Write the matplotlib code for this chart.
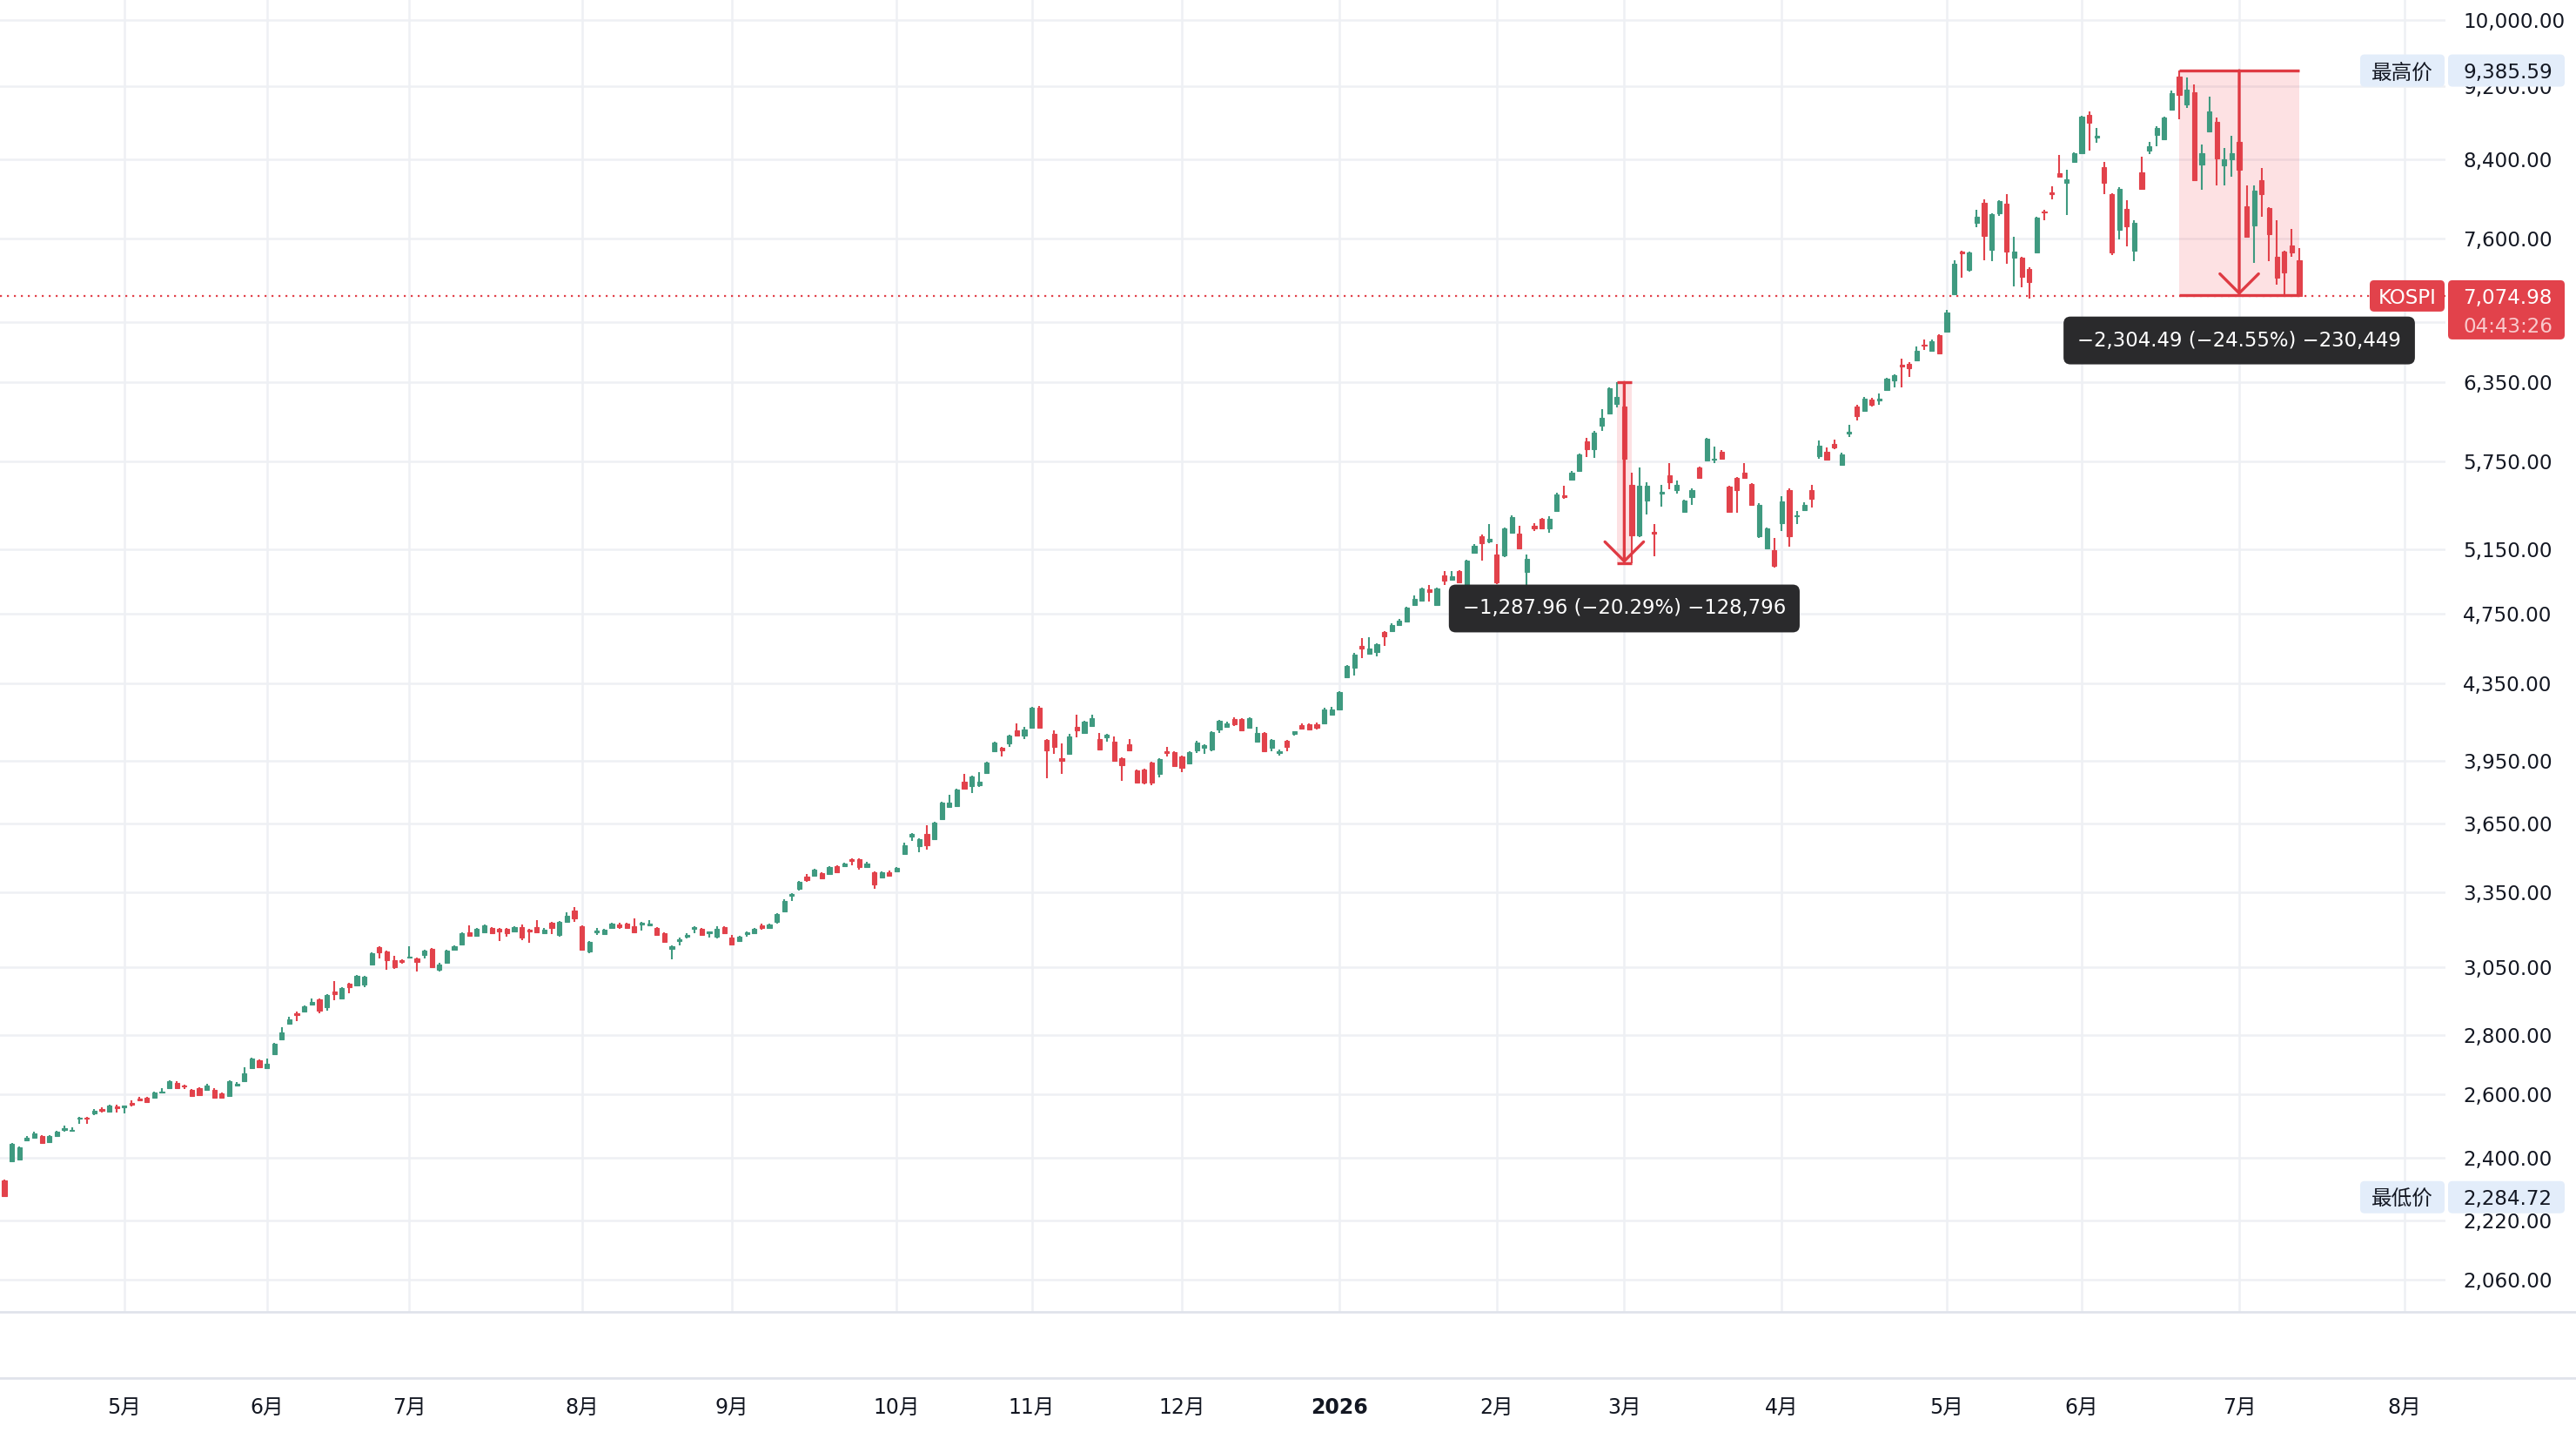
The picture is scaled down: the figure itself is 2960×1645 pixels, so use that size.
import matplotlib.pyplot as plt
import numpy as np
from matplotlib.patches import FancyBboxPatch, FancyArrowPatch
from matplotlib.lines import Line2D
from matplotlib.transforms import IdentityTransform, blended_transform_factory

plt.rcParams['font.family'] = ['DejaVu Sans', 'Noto Sans CJK SC']

# KOSPI 日线 OHLC
opens = [2332, 2391, 2396, 2453, 2461, 2467, 2449, 2467, 2486, 2483,
         2521, 2525, 2538, 2552, 2544, 2560, 2558, 2572, 2586, 2589,
         2589, 2606, 2620, 2637, 2629, 2614, 2620, 2614, 2614, 2603,
         2594, 2629, 2643, 2686, 2712, 2686, 2733, 2786, 2840, 2877,
         2884, 2909, 2928, 2899, 2957, 2931, 2985, 2979, 2982, 3058,
         3126, 3109, 3075, 3075, 3085, 3081, 3095, 3119, 3038, 3065,
         3116, 3136, 3185, 3171, 3185, 3202, 3199, 3199, 3188, 3206,
         3195, 3206, 3181, 3224, 3174, 3227, 3273, 3209, 3109, 3185,
         3178, 3202, 3216, 3220, 3209, 3216, 3213, 3202, 3181, 3119,
         3150, 3167, 3199, 3199, 3181, 3167, 3206, 3164, 3150, 3178,
         3181, 3213, 3202, 3227, 3269, 3334, 3363, 3415, 3418, 3429,
         3426, 3459, 3459, 3490, 3490, 3455, 3433, 3411, 3433, 3437,
         3513, 3591, 3548, 3603, 3579, 3670, 3726, 3730, 3849, 3825,
         3829, 3888, 3996, 4013, 4035, 4102, 4075, 4115, 4219, 4053,
         4084, 3961, 3983, 4120, 4089, 4124, 4057, 4066, 4044, 3961,
         4030, 3904, 3908, 3939, 3883, 3996, 3991, 3970, 3935, 4000,
         4013, 4004, 4106, 4120, 4160, 4160, 4115, 4044, 4089, 4013,
         3987, 4049, 4084, 4129, 4133, 4133, 4138, 4183, 4214, 4384,
         4437, 4560, 4519, 4524, 4640, 4649, 4681, 4705, 4803, 4829,
         4894, 4803, 4981, 4958, 5008, 4889, 5129, 5236, 5197, 5118,
         5107, 5254, 5249, 5002, 5300, 5347, 5283, 5405, 5512, 5621,
         5683, 5898, 5840, 6009, 6107, 6181, 6160, 5585, 5242, 5476,
         5262, 5524, 5652, 5548, 5399, 5500, 5708, 5758, 5760, 5821,
         5572, 5633, 5671, 5591, 5231, 5157, 5141, 5318, 5548, 5365,
         5411, 5548, 5789, 5821, 5878, 5727, 5955, 6161, 6127, 6215,
         6208, 6290, 6366, 6492, 6499, 6528, 6655, 6606, 6737, 6766,
         7088, 7481, 7313, 7754, 7947, 7497, 7850, 7938, 7421, 7421,
         7320, 7473, 7867, 8055, 8252, 8155, 8370, 8463, 8878, 8630,
         8316, 8040, 7686, 7892, 7489, 8262, 8490, 8660, 8610, 8936,
         9312, 8998, 9138, 8344, 8697, 8803, 8335, 8398, 8583, 7920,
         7730, 8180, 7903, 7433, 7481, 7539, 7400]
highs = [2337, 2446, 2436, 2466, 2480, 2470, 2470, 2484, 2500, 2494,
         2527, 2527, 2552, 2556, 2567, 2566, 2564, 2580, 2590, 2592,
         2609, 2620, 2646, 2643, 2631, 2617, 2623, 2635, 2620, 2606,
         2646, 2640, 2689, 2721, 2716, 2718, 2772, 2827, 2865, 2884,
         2907, 2931, 2932, 2948, 2995, 2974, 2988, 3018, 3015, 3105,
         3130, 3112, 3091, 3080, 3129, 3085, 3116, 3122, 3065, 3116,
         3133, 3185, 3213, 3202, 3217, 3206, 3202, 3202, 3209, 3216,
         3199, 3234, 3202, 3227, 3231, 3266, 3287, 3213, 3150, 3202,
         3199, 3225, 3225, 3224, 3241, 3226, 3234, 3206, 3184, 3132,
         3164, 3181, 3209, 3202, 3190, 3209, 3210, 3174, 3171, 3188,
         3203, 3220, 3220, 3262, 3318, 3345, 3397, 3425, 3450, 3433,
         3460, 3463, 3475, 3494, 3494, 3478, 3437, 3437, 3440, 3456,
         3564, 3607, 3583, 3642, 3658, 3750, 3786, 3812, 3886, 3878,
         3894, 3944, 4044, 4017, 4080, 4138, 4120, 4225, 4230, 4060,
         4102, 4035, 4084, 4183, 4152, 4183, 4089, 4084, 4071, 3965,
         4057, 3908, 3912, 3944, 3961, 4017, 3996, 3974, 3996, 4049,
         4030, 4097, 4156, 4150, 4169, 4165, 4169, 4120, 4093, 4057,
         4004, 4053, 4100, 4140, 4138, 4145, 4219, 4224, 4310, 4451,
         4520, 4608, 4613, 4575, 4649, 4690, 4720, 4793, 4860, 4905,
         4926, 4905, 5008, 5008, 5015, 5080, 5185, 5245, 5317, 5185,
         5290, 5370, 5300, 5118, 5320, 5355, 5367, 5525, 5578, 5680,
         5808, 5924, 5970, 6141, 6310, 6347.70, 6220, 5666, 5708, 5602,
         5317, 5585, 5734, 5615, 5482, 5555, 5714, 5924, 5859, 5830,
         5578, 5640, 5734, 5597, 5458, 5294, 5225, 5506, 5560, 5405,
         5460, 5585, 5904, 5853, 5911, 5810, 6022, 6174, 6230, 6225,
         6262, 6386, 6415, 6543, 6510, 6640, 6700, 6695, 6745, 6950,
         7400, 7490, 7481, 7886, 7982, 7850, 7975, 8040, 7620, 7430,
         7330, 7815, 7880, 8118, 8443, 8290, 8472, 8870, 8920, 8735,
         8370, 8050, 8109, 7973, 7781, 8425, 8583, 8754, 8860, 9156,
         9385.59, 9303, 9224, 8555, 9088, 8850, 8517, 8650, 8600, 8127,
         8127, 8305, 7910, 7782, 7490, 7698, 7514]
lows = [2284.72, 2388, 2393, 2450, 2458, 2443, 2446, 2464, 2480, 2482,
        2505, 2505, 2532, 2541, 2540, 2540, 2538, 2560, 2577, 2572,
        2586, 2604, 2617, 2617, 2617, 2591, 2594, 2611, 2586, 2586,
        2591, 2625, 2640, 2683, 2686, 2683, 2730, 2783, 2837, 2849,
        2880, 2906, 2877, 2887, 2925, 2928, 2950, 2976, 2973, 3055,
        3081, 3038, 3041, 3063, 3083, 3031, 3081, 3045, 3031, 3061,
        3112, 3132, 3168, 3167, 3181, 3178, 3150, 3167, 3185, 3153,
        3143, 3181, 3178, 3178, 3167, 3224, 3227, 3112, 3102, 3174,
        3174, 3198, 3198, 3199, 3182, 3192, 3209, 3171, 3143, 3078,
        3133, 3160, 3181, 3171, 3164, 3160, 3178, 3133, 3146, 3167,
        3178, 3197, 3199, 3220, 3265, 3312, 3358, 3392, 3415, 3404,
        3422, 3429, 3455, 3463, 3444, 3452, 3363, 3407, 3415, 3433,
        3509, 3572, 3521, 3532, 3575, 3666, 3722, 3726, 3808, 3792,
        3821, 3884, 3991, 3970, 4017, 4071, 4057, 4110, 4110, 3862,
        3983, 3883, 3978, 4066, 4084, 4120, 4000, 4044, 3944, 3852,
        3996, 3837, 3833, 3829, 3866, 3970, 3918, 3892, 3930, 3987,
        3983, 3996, 4089, 4115, 4124, 4097, 4110, 4040, 3991, 3996,
        3974, 3996, 4075, 4106, 4102, 4106, 4133, 4178, 4210, 4380,
        4394, 4490, 4514, 4500, 4560, 4645, 4676, 4700, 4798, 4825,
        4824, 4798, 4926, 4950, 4932, 4885, 5120, 5074, 5190, 4931,
        5100, 5250, 5150, 4900, 5270, 5280, 5254, 5398, 5488, 5615,
        5675, 5783, 5777, 5976, 6100, 6154, 5750, 5059.74, 5230, 5376,
        5102, 5429, 5554, 5524, 5393, 5446, 5627, 5752, 5734, 5765,
        5393, 5393, 5627, 5440, 5220, 5151, 5030, 5271, 5168, 5317,
        5405, 5423, 5770, 5758, 5840, 5720, 5930, 6055, 6120, 6161,
        6174, 6284, 6311, 6311, 6394, 6520, 6614, 6600, 6580, 6760,
        7080, 7236, 7290, 7708, 7400, 7392, 7824, 7368, 7158, 7150,
        7050, 7465, 7782, 7990, 8210, 7830, 8360, 8455, 8490, 8575,
        8040, 7449, 7596, 7530, 7392, 8085, 8455, 8537, 8600, 8930,
        8830, 8958, 8170, 8082, 8690, 8127, 8127, 8218, 8270, 7612,
        7375, 7815, 7392, 7177, 7078, 7433, 7074.98]
closes = [2288, 2443, 2433, 2461, 2475, 2446, 2467, 2480, 2492, 2487,
          2525, 2521, 2546, 2546, 2563, 2555, 2563, 2566, 2581, 2575,
          2606, 2609, 2643, 2620, 2626, 2594, 2597, 2629, 2589, 2589,
          2643, 2634, 2669, 2718, 2689, 2701, 2769, 2808, 2855, 2871,
          2903, 2919, 2887, 2944, 2947, 2970, 2973, 3015, 3012, 3102,
          3105, 3075, 3048, 3068, 3088, 3068, 3112, 3048, 3058, 3112,
          3129, 3181, 3171, 3199, 3213, 3181, 3188, 3181, 3206, 3164,
          3188, 3185, 3195, 3202, 3227, 3252, 3241, 3116, 3146, 3192,
          3195, 3220, 3206, 3202, 3185, 3223, 3220, 3174, 3146, 3129,
          3157, 3174, 3206, 3174, 3188, 3199, 3181, 3136, 3167, 3185,
          3199, 3202, 3216, 3259, 3312, 3341, 3392, 3400, 3444, 3407,
          3455, 3433, 3471, 3482, 3455, 3471, 3381, 3433, 3418, 3452,
          3552, 3603, 3579, 3552, 3654, 3746, 3746, 3808, 3812, 3874,
          3845, 3939, 4040, 4000, 4075, 4075, 4106, 4219, 4115, 4000,
          4017, 3948, 4071, 4102, 4147, 4165, 4004, 4080, 3948, 3926,
          4000, 3841, 3841, 3841, 3957, 3987, 3922, 3913, 3991, 4040,
          4026, 4093, 4151, 4138, 4133, 4102, 4165, 4089, 3996, 4053,
          3996, 4017, 4097, 4111, 4106, 4118, 4214, 4210, 4303, 4446,
          4514, 4546, 4546, 4570, 4616, 4681, 4710, 4788, 4839, 4900,
          4878, 4900, 4948, 4975, 4937, 5074, 5174, 5191, 5214, 4942,
          5283, 5361, 5157, 5085, 5285, 5288, 5347, 5518, 5500, 5670,
          5802, 5840, 5963, 6074, 6304, 6235, 5770, 5242, 5579, 5579,
          5250, 5535, 5602, 5585, 5476, 5548, 5633, 5917, 5770, 5770,
          5399, 5548, 5633, 5446, 5446, 5288, 5041, 5465, 5231, 5371,
          5446, 5488, 5865, 5764, 5852, 5802, 5965, 6088, 6222, 6174,
          6222, 6380, 6408, 6478, 6464, 6606, 6645, 6686, 6585, 6929,
          7362, 7465, 7473, 7815, 7629, 7841, 7964, 7481, 7481, 7250,
          7200, 7806, 7855, 8040, 8220, 8187, 8463, 8860, 8790, 8645,
          8154, 7473, 8091, 7723, 7756, 8091, 8537, 8735, 8850, 9128,
          9108, 9168, 8178, 8463, 8918, 8406, 8398, 8463, 8290, 7621,
          8073, 8040, 7645, 7240, 7288, 7473, 7074.98]

# 每月第一根K线的序号 与 时间轴标签
month_idx = [16, 35, 54, 77, 97, 119, 137, 157, 178, 199, 216, 237, 259, 277, 298, 320]
month_lbl = ['5月', '6月', '7月', '8月', '9月', '10月', '11月', '12月', '2026',
             '2月', '3月', '4月', '5月', '6月', '7月', '8月']

price_ticks = [10000, 9200, 8400, 7600, 6850, 6350, 5750, 5150, 4750, 4350,
               3950, 3650, 3350, 3050, 2800, 2600, 2400, 2220, 2060]

# 价格区间测量 (起点K线, 终点K线, 高, 低, 标签)
meas_start = [215, 290]
meas_end = [217, 306]
meas_top = [6347.70, 9385.59]
meas_bot = [5059.74, 7081.10]
meas_txt = ['\u22121,287.96 (\u221220.29%) \u2212128,796',
            '\u22122,304.49 (\u221224.55%) \u2212230,449']

symbol = 'KOSPI'
countdown = '04:43:26'

green = '#3f9a80'
red = '#e2424b'
mred = '#df3a43'
grid_c = '#eef0f4'
txt_c = '#131722'

W, H, DPI = 2960, 1645, 200
fig = plt.figure(figsize=(W / DPI, H / DPI), dpi=DPI)
fig.patch.set_facecolor('white')

pane_r, pane_b = 2810, 1507
ax = fig.add_axes([0, (H - pane_b) / H, pane_r / W, pane_b / H])
ax.set_yscale('log')
ax.set_xlim(-0.58, 325.5)
ax.set_ylim(1978.6, 10254)
ax.set_yticks(price_ticks)
ax.yaxis.set_minor_locator(plt.NullLocator())
ax.set_xticks(month_idx)
ax.tick_params(which='both', length=0, labelleft=False, labelbottom=False)
ax.grid(True, color=grid_c, lw=0.9)
ax.set_axisbelow(True)
for s in ax.spines.values():
    s.set_visible(False)

o = np.array(opens, float)
h = np.array(highs, float)
l = np.array(lows, float)
c = np.array(closes, float)
x = np.arange(len(c))
cols = np.where(c >= o, green, red)

ax.vlines(x, l, h, colors=cols, lw=0.75, zorder=3)
lo_b = np.minimum(o, c)
hi_b = np.maximum(o, c)
ax.bar(x, hi_b - lo_b, bottom=lo_b, width=0.6, color=cols, edgecolor=cols,
       lw=0.4, zorder=3)

# 当前价虚线
last = c[-1]
ax.axhline(last, color=red, lw=0.8, ls=(0, (1, 2.6)), zorder=2)

# 测量工具
for s0, s1, top, bot, t in zip(meas_start, meas_end, meas_top, meas_bot, meas_txt):
    ax.fill_between([s0, s1], bot, top, color='#f23645', alpha=0.15, lw=0, zorder=1)
    ax.hlines([top, bot], s0, s1, color=mred, lw=1.2, zorder=4)
    xm = (s0 + s1) / 2
    ax.add_patch(FancyArrowPatch((xm, top), (xm, bot),
                                 arrowstyle='->,head_length=8,head_width=8',
                                 mutation_scale=1, lw=1.2, color=mred,
                                 shrinkA=0, shrinkB=0, zorder=5))
    ax.annotate(t, xy=(xm, bot), xytext=(0, -52), textcoords='offset pixels',
                ha='center', va='center', color='white', fontsize=8.2,
                annotation_clip=False, zorder=6,
                bbox=dict(boxstyle='round,pad=0.7,rounding_size=0.35',
                          fc='#2a2a2c', ec='none'))

# 时间轴
tb = blended_transform_factory(ax.transData, ax.transAxes)
for i, lb in zip(month_idx, month_lbl):
    ax.text(i, -(1614 - pane_b) / pane_b, lb, transform=tb, ha='center',
            va='center_baseline', fontsize=8.5, color=txt_c, clip_on=False,
            fontweight='bold' if lb == '2026' else 'normal')

for yy in (pane_b, 1583):
    fig.add_artist(Line2D([0, W], [H - yy, H - yy], transform=IdentityTransform(),
                          color='#e0e3eb', lw=1.0))


def ypx(p):
    return ax.transData.transform((0, p))[1]


# 右侧价格刻度
for v in price_ticks:
    fig.text(2830, ypx(v), f'{v:,.2f}', transform=IdentityTransform(),
             ha='left', va='center_baseline', fontsize=8.3, color=txt_c, zorder=3)


def box(x0, x1, y0, hh, fc):
    fig.add_artist(FancyBboxPatch((x0, y0), x1 - x0, hh,
                                  boxstyle='round,pad=0,rounding_size=5',
                                  transform=IdentityTransform(), fc=fc, ec='none',
                                  zorder=5))


def ftext(xp, yp, s, **kw):
    fig.text(xp, yp, s, transform=IdentityTransform(), va='center_baseline',
             zorder=6, **kw)


# 最高价 / 最低价 标签
for name, p in (('最高价', h.max()), ('最低价', l.min())):
    yc = ypx(p)
    box(2712, 2809, yc - 18.5, 37, '#e3edfa')
    box(2813, 2947, yc - 18.5, 37, '#e3edfa')
    ftext(2760, yc, name, ha='center', fontsize=8.5, color=txt_c)
    ftext(2830, yc, f'{p:,.2f}', ha='left', fontsize=8.3, color=txt_c)

# 当前价标签
yc = ypx(last)
box(2723, 2809, yc - 18, 36, red)
box(2813, 2947, yc - 50, 68, red)
ftext(2766, yc, symbol, ha='center', fontsize=8.3, color='white')
ftext(2830, yc, f'{last:,.2f}', ha='left', fontsize=8.3, color='white')
ftext(2830, yc - 33, countdown, ha='left', fontsize=8.3, color='#f9c9cc')

fig.savefig('out.png', dpi=DPI, facecolor='white')
